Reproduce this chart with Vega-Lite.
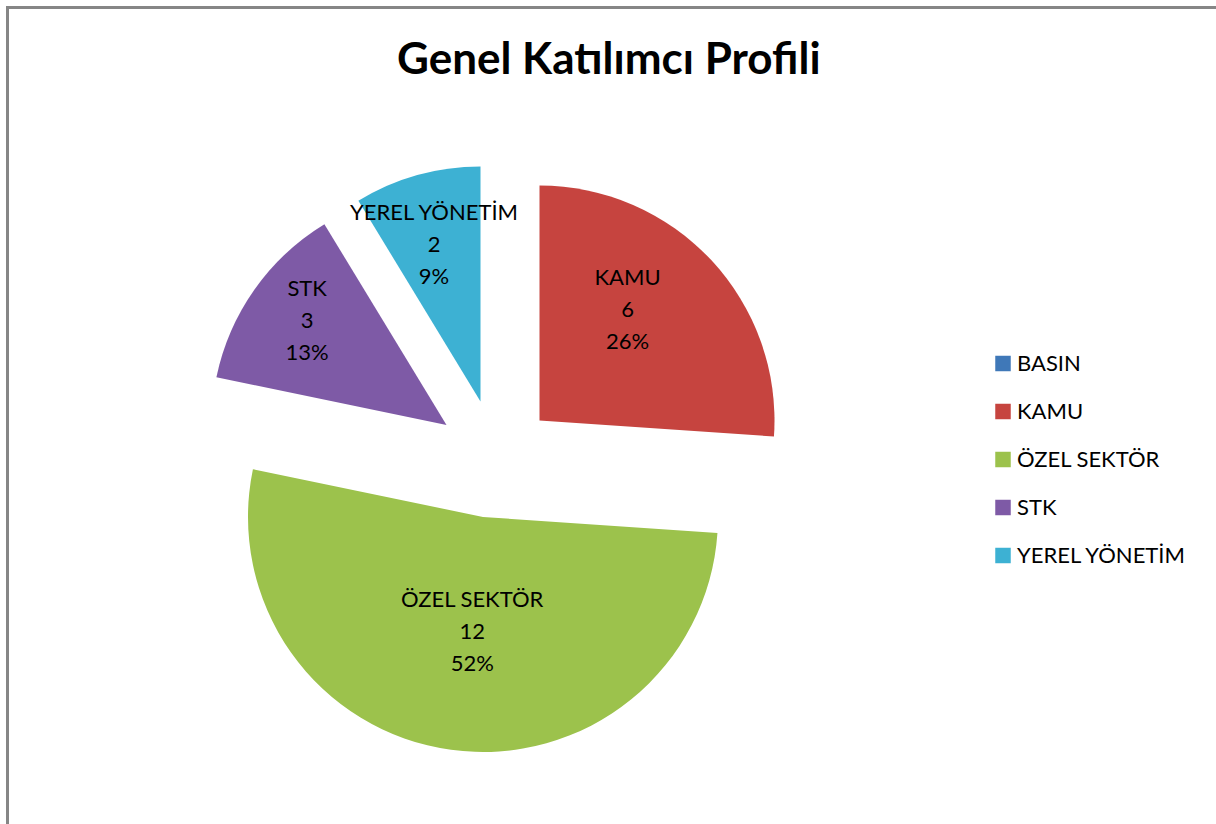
{
  "$schema": "https://vega.github.io/schema/vega-lite/v6.json",
  "width": 1300,
  "height": 820.5,
  "autosize": {"type": "none"},
  "padding": {"left": 7.5, "top": 7.5, "right": -91.5, "bottom": -4},
  "background": "white",
  "config": {
    "view": {"stroke": null},
    "font": "Lato",
    "text": {"font": "Lato"}
  },
  "title": {
    "text": "Genel Katılımcı Profili",
    "font": "Lato",
    "fontSize": 44,
    "fontWeight": "bold",
    "color": "black",
    "anchor": "start",
    "offset": -98.5,
    "baseline": "alphabetic",
    "dx": 391,
    "dy": 13
  },
  "data": {
    "values": [
      {"cat": "BASIN", "value": 0, "ord": 1, "label": "BASIN\n0\n0%"},
      {"cat": "KAMU", "value": 6, "ord": 2, "label": "KAMU\n6\n26%"},
      {"cat": "ÖZEL SEKTÖR", "value": 12, "ord": 3, "label": "ÖZEL SEKTÖR\n12\n52%"},
      {"cat": "STK", "value": 3, "ord": 4, "label": "STK\n3\n13%"},
      {"cat": "YEREL YÖNETİM", "value": 2, "ord": 5, "label": "YEREL YÖNETİM\n2\n9%"}
    ]
  },
  "transform": [
    {"stack": "value", "groupby": [], "sort": [{"field": "ord", "order": "ascending"}], "as": ["t0", "t1"]}
  ],
  "layer": [
    {
      "data": {"values": [{"frame": "chart area"}]},
      "transform": [],
      "mark": {"type": "rect", "filled": false, "stroke": "#868686", "strokeWidth": 3, "fill": null},
      "encoding": {}
    },
    {
      "transform": [{"filter": "datum.cat === 'KAMU'"}],
      "mark": {"type": "arc", "radius": 235, "xOffset": -118, "yOffset": 2.75},
      "encoding": {
        "theta": {"field": "t0", "type": "quantitative"},
        "theta2": {"field": "t1"},
        "color": {
          "field": "cat", "type": "nominal",
          "scale": {
            "domain": ["BASIN", "KAMU", "ÖZEL SEKTÖR", "STK", "YEREL YÖNETİM"],
            "range": ["#3F78B8", "#C6443F", "#9CC24C", "#7E5AA6", "#3DB1D3"]
          },
          "legend": {
            "orient": "none", "legendX": 984.5, "legendY": 345, "title": null,
            "symbolType": "square", "symbolSize": 240, "symbolStrokeWidth": 0,
            "labelFont": "Lato", "labelFontSize": 22, "labelColor": "black", "labelLimit": 0,
            "rowPadding": 26, "labelOffset": 3, "padding": 0
          }
        }
      }
    },
    {
      "transform": [{"filter": "datum.cat === 'ÖZEL SEKTÖR'"}],
      "mark": {"type": "arc", "radius": 235, "xOffset": -174.5, "yOffset": 99.25},
      "encoding": {
        "theta": {"field": "t0", "type": "quantitative"},
        "theta2": {"field": "t1"},
        "color": {"field": "cat", "type": "nominal"}
      }
    },
    {
      "transform": [{"filter": "datum.cat === 'STK'"}],
      "mark": {"type": "arc", "radius": 235, "xOffset": -211, "yOffset": 7.25},
      "encoding": {
        "theta": {"field": "t0", "type": "quantitative"},
        "theta2": {"field": "t1"},
        "color": {"field": "cat", "type": "nominal"}
      }
    },
    {
      "transform": [{"filter": "datum.cat === 'YEREL YÖNETİM'"}],
      "mark": {"type": "arc", "radius": 235, "xOffset": -177, "yOffset": -16.25},
      "encoding": {
        "theta": {"field": "t0", "type": "quantitative"},
        "theta2": {"field": "t1"},
        "color": {"field": "cat", "type": "nominal"}
      }
    },
    {
      "mark": {"type": "text", "radius": 141, "xOffset": -118, "yOffset": 2.75, "dx": -15, "dy": -46, "fontSize": 22, "lineBreak": "\n", "lineHeight": 32, "color": "black"},
      "encoding": {
        "theta": {"field": "value", "type": "quantitative", "stack": true},
        "order": {"field": "ord", "type": "quantitative"},
        "detail": {"field": "cat"},
        "text": {"condition": {"test": "datum.cat === 'KAMU'", "field": "label", "type": "nominal"}, "value": ""}
      }
    },
    {
      "mark": {"type": "text", "radius": 116, "xOffset": -174.5, "yOffset": 99.25, "dx": 5, "dy": -32, "fontSize": 22, "lineBreak": "\n", "lineHeight": 32, "color": "black"},
      "encoding": {
        "theta": {"field": "value", "type": "quantitative", "stack": true},
        "order": {"field": "ord", "type": "quantitative"},
        "detail": {"field": "cat"},
        "text": {"condition": {"test": "datum.cat === 'ÖZEL SEKTÖR'", "field": "label", "type": "nominal"}, "value": ""}
      }
    },
    {
      "mark": {"type": "text", "radius": 173, "xOffset": -211, "yOffset": 7.25, "dx": 2, "dy": -36, "fontSize": 22, "lineBreak": "\n", "lineHeight": 32, "color": "black"},
      "encoding": {
        "theta": {"field": "value", "type": "quantitative", "stack": true},
        "order": {"field": "ord", "type": "quantitative"},
        "detail": {"field": "cat"},
        "text": {"condition": {"test": "datum.cat === 'STK'", "field": "label", "type": "nominal"}, "value": ""}
      }
    },
    {
      "mark": {"type": "text", "radius": 163, "xOffset": -177, "yOffset": -16.25, "dx": -2.5, "dy": -32, "fontSize": 22, "lineBreak": "\n", "lineHeight": 32, "color": "black"},
      "encoding": {
        "theta": {"field": "value", "type": "quantitative", "stack": true},
        "order": {"field": "ord", "type": "quantitative"},
        "detail": {"field": "cat"},
        "text": {"condition": {"test": "datum.cat === 'YEREL YÖNETİM'", "field": "label", "type": "nominal"}, "value": ""}
      }
    }
  ]
}
